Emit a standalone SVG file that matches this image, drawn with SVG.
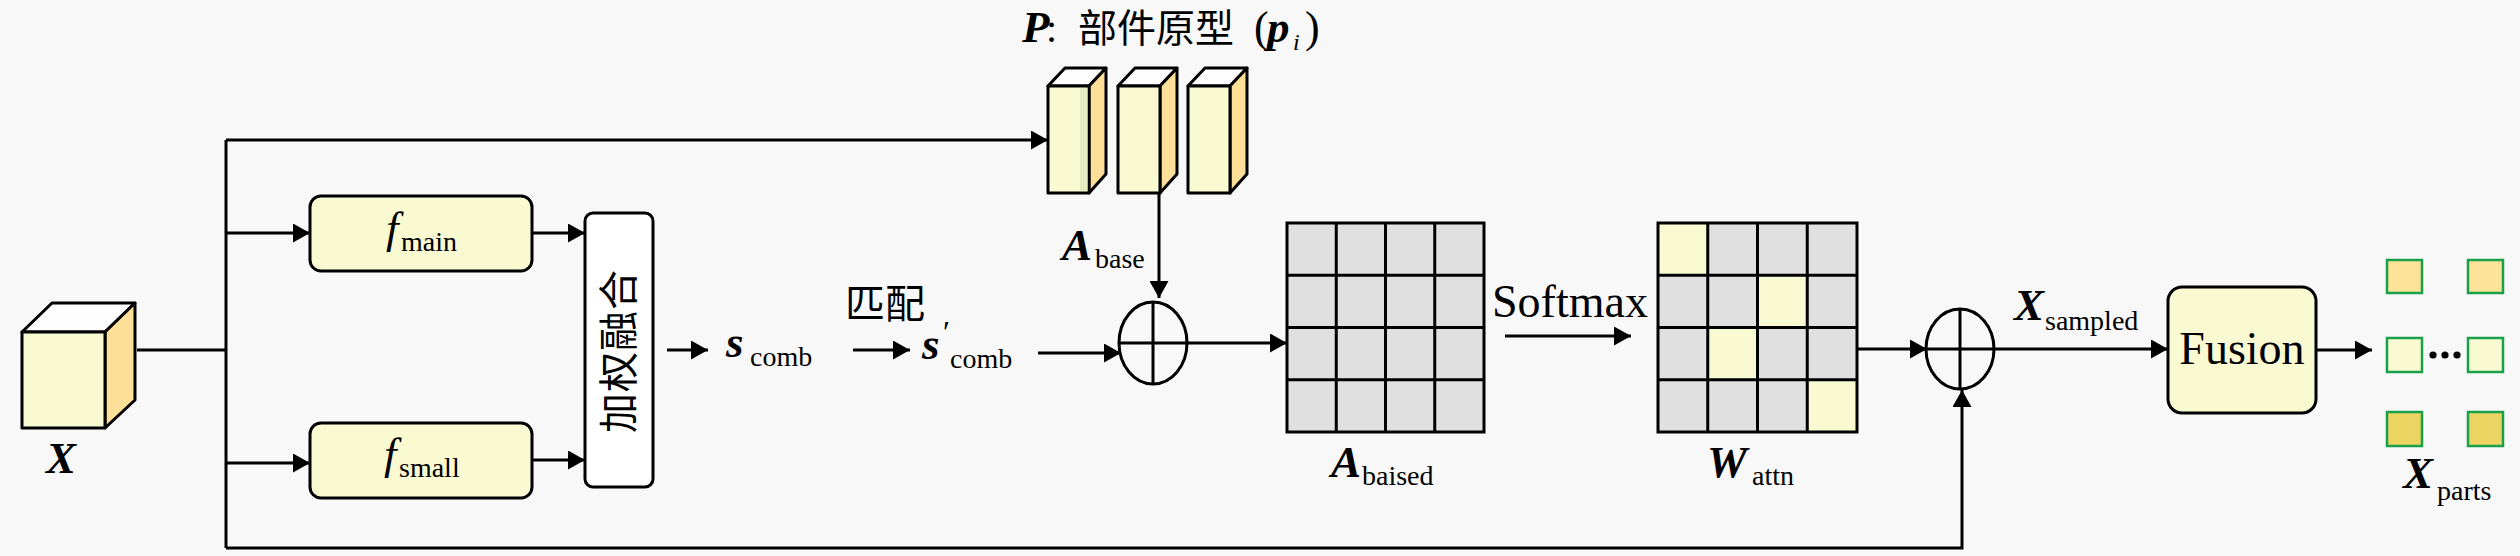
<svg xmlns="http://www.w3.org/2000/svg" width="2520" height="556" viewBox="0 0 2520 556">
<style>
.ln{stroke:#000;stroke-width:3;fill:none}
.arr{marker-end:url(#ah)}
.box{fill:#fafad2;stroke:#000;stroke-width:3}
.face{stroke:#000;stroke-width:3;stroke-linejoin:round}
.front{fill:#fafad2}
.side{fill:#fddf98}
.top{fill:#fefefe}
.cell{fill:#e0e0e0}
.hot{fill:#fafad2}
.grid{stroke:#000;stroke-width:3;fill:none}
.part{stroke:#19a04b;stroke-width:2.5}
.t{font-family:"Liberation Serif",serif}
.mb{font-style:italic;font-weight:bold;font-size:45px}
.it{font-style:italic;font-weight:normal;font-size:45px}
.sub{font-size:28px;font-style:normal;font-weight:normal}
.rm{font-family:"Liberation Serif",serif;font-size:46px}
.cjk{font-family:"Liberation Serif","Noto Sans CJK SC",serif;font-size:40px}
</style>
<defs>
<marker id="ah" markerWidth="18" markerHeight="19" refX="17" refY="9.5" orient="auto" markerUnits="userSpaceOnUse">
<path d="M0,0 L17,9.5 L0,19 z" fill="#000"/>
</marker>
</defs>
<rect width="2520" height="556" fill="#f8f8f8"/>

<g id="connectors">
<line class="ln" x1="137" y1="350" x2="226" y2="350"/>
<line class="ln" x1="226" y1="140" x2="226" y2="548"/>
<line class="ln arr" x1="226" y1="140" x2="1048" y2="140"/>
<line class="ln arr" x1="226" y1="233" x2="310" y2="233"/>
<line class="ln arr" x1="226" y1="463" x2="310" y2="463"/>
<line class="ln arr" x1="532" y1="233" x2="585" y2="233"/>
<line class="ln arr" x1="532" y1="460" x2="585" y2="460"/>
<line class="ln arr" x1="667" y1="350" x2="708" y2="350"/>
<line class="ln arr" x1="853" y1="350" x2="910" y2="350"/>
<line class="ln arr" x1="1038" y1="353" x2="1121" y2="353"/>
<line class="ln arr" x1="1159" y1="193" x2="1159" y2="298"/>
<line class="ln arr" x1="1187" y1="343" x2="1287" y2="343"/>
<line class="ln arr" x1="1505" y1="336" x2="1631" y2="336"/>
<line class="ln arr" x1="1857" y1="349" x2="1927" y2="349"/>
<line class="ln arr" x1="1994" y1="349" x2="2168" y2="349"/>
<polyline class="ln arr" points="226,548 1962,548 1962,390"/>
<line class="ln arr" x1="2316" y1="350" x2="2372" y2="350"/>
</g>

<g id="cube-x">
<polygon class="face top" points="22,332 52,303 135,303 105,332"/>
<polygon class="face side" points="105,332 135,303 135,400 105,428"/>
<rect class="face front" x="22" y="332" width="83" height="96"/>
<text class="t mb" x="46" y="473">X</text>
</g>

<g id="f-main">
<rect class="box" x="310" y="196" width="222" height="75" rx="11"/>
<text class="t it" x="386" y="243">f<tspan class="sub" x="401" y="251">main</tspan></text>
</g>

<g id="f-small">
<rect class="box" x="310" y="423" width="222" height="75" rx="11"/>
<text class="t it" x="384" y="469">f<tspan class="sub" x="399" y="477">small</tspan></text>
</g>

<g id="weighted-fusion">
<rect x="585" y="213" width="68" height="274" rx="8" fill="#ffffff" stroke="#000" stroke-width="3"/>
<text class="cjk" x="619" y="351" font-size="42" text-anchor="middle" dominant-baseline="central" letter-spacing="1" transform="rotate(-90 619 351)">加权融合</text>
</g>

<g id="s-comb">
<text class="t mb" x="726" y="357">s<tspan class="sub" x="750" y="366" font-size="26">comb</tspan></text>
</g>

<g id="match">
<text class="cjk" x="845" y="318" font-size="42">匹配</text>
<text class="t mb" x="922" y="359">s<tspan x="941" y="343" font-size="32" font-weight="normal">′</tspan><tspan class="sub" x="950" y="368" font-size="26">comb</tspan></text>
</g>

<g id="prototypes">
<text class="t mb" x="1022" y="42">P<tspan x="1046" font-size="40" font-style="normal" font-weight="normal">:</tspan><tspan x="1078" font-size="39" font-style="normal" font-weight="normal" font-family="'Liberation Serif','Noto Sans CJK SC',serif">部件原型</tspan><tspan x="1254" font-size="44" font-style="normal" font-weight="normal">(</tspan><tspan x="1267">p</tspan><tspan x="1293" y="50" font-size="24" font-weight="normal">i</tspan><tspan x="1305" y="42" font-size="44" font-style="normal" font-weight="normal">)</tspan></text>
<g id="bar1">
<polygon class="face top" points="1048,86 1065,68 1106,68 1089,86"/>
<polygon class="face side" points="1089,86 1106,68 1106,174 1089,193"/>
<rect class="face front" x="1048" y="86" width="41" height="107"/>
<rect x="1080" y="88" width="7.5" height="103" fill="#e6eac2"/>
</g>
<g id="bar2">
<polygon class="face top" points="1118,86 1135,68 1177,68 1160,86"/>
<polygon class="face side" points="1160,86 1177,68 1177,174 1160,193"/>
<rect class="face front" x="1118" y="86" width="42" height="107"/>
</g>
<g id="bar3">
<polygon class="face top" points="1188,86 1205,68 1247,68 1230,86"/>
<polygon class="face side" points="1230,86 1247,68 1247,174 1230,193"/>
<rect class="face front" x="1188" y="86" width="42" height="107"/>
</g>
</g>

<g id="a-base-label">
<text class="t mb" x="1062" y="260">A<tspan class="sub" x="1095" y="268">base</tspan></text>
</g>

<g id="add-1">
<ellipse cx="1153" cy="343" rx="34" ry="41" fill="none" stroke="#000" stroke-width="3"/>
<line class="ln" x1="1119" y1="343" x2="1187" y2="343"/>
<line class="ln" x1="1153" y1="302" x2="1153" y2="384"/>
</g>

<g id="a-biased">
<rect class="cell" x="1287" y="223" width="197" height="209"/>
<path class="grid" d="M1336.25,223V432M1385.5,223V432M1434.75,223V432M1287,275.25H1484M1287,327.5H1484M1287,379.75H1484"/>
<rect class="grid" x="1287" y="223" width="197" height="209" stroke-width="3.5"/>
<text class="t mb" x="1331" y="477">A<tspan class="sub" x="1362" y="485">baised</tspan></text>
</g>

<g id="softmax">
<text class="rm" x="1492" y="317">Softmax</text>
</g>

<g id="w-attn">
<rect class="cell" x="1658" y="223" width="199" height="209"/>
<rect class="hot" x="1658" y="223" width="49.75" height="52.25"/>
<rect class="hot" x="1757.5" y="275.25" width="49.75" height="52.25"/>
<rect class="hot" x="1707.75" y="327.5" width="49.75" height="52.25"/>
<rect class="hot" x="1807.25" y="379.75" width="49.75" height="52.25"/>
<path class="grid" d="M1707.75,223V432M1757.5,223V432M1807.25,223V432M1658,275.25H1857M1658,327.5H1857M1658,379.75H1857"/>
<rect class="grid" x="1658" y="223" width="199" height="209" stroke-width="3.5"/>
<text class="t mb" x="1707" y="477">W<tspan class="sub" x="1752" y="485">attn</tspan></text>
</g>

<g id="add-2">
<ellipse cx="1960" cy="349" rx="34" ry="40" fill="none" stroke="#000" stroke-width="3"/>
<line class="ln" x1="1926" y1="349" x2="1994" y2="349"/>
<line class="ln" x1="1960" y1="309" x2="1960" y2="389"/>
</g>

<g id="x-sampled">
<text class="t mb" x="2014" y="320">X<tspan class="sub" x="2045" y="330">sampled</tspan></text>
</g>

<g id="fusion">
<rect class="box" x="2168" y="287" width="148" height="126" rx="14"/>
<text class="rm" x="2242" y="364" text-anchor="middle">Fusion</text>
</g>

<g id="x-parts">
<rect class="part" x="2387" y="260" width="35" height="33" fill="#fde29a"/>
<rect class="part" x="2468" y="260" width="35" height="33" fill="#fde29a"/>
<rect class="part" x="2387" y="338" width="35" height="34" fill="#fafad2"/>
<rect class="part" x="2468" y="338" width="35" height="34" fill="#fafad2"/>
<rect class="part" x="2387" y="412" width="35" height="34" fill="#ecd462"/>
<rect class="part" x="2468" y="412" width="35" height="34" fill="#ecd462"/>
<circle cx="2433" cy="355" r="3.6"/>
<circle cx="2445" cy="355" r="3.6"/>
<circle cx="2457" cy="355" r="3.6"/>
<text class="t mb" x="2403" y="488">X<tspan class="sub" x="2437" y="500">parts</tspan></text>
</g>
</svg>
